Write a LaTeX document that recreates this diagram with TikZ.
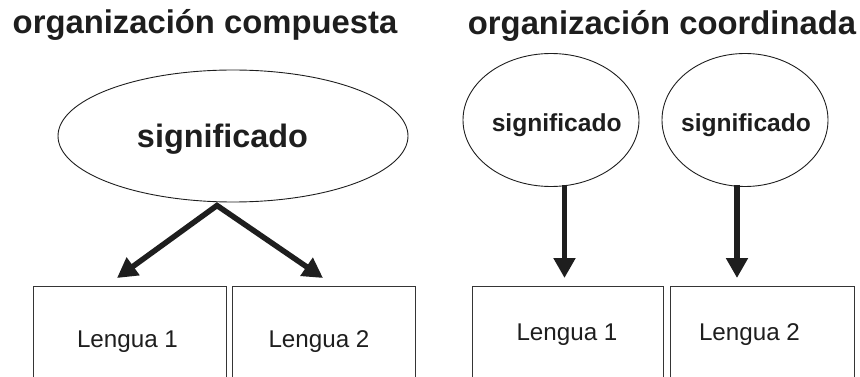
\documentclass[tikz,border=0pt]{standalone}
\usepackage{fontspec}
\setmainfont{Liberation Sans}
\usetikzlibrary{arrows.meta,shapes.geometric}
\definecolor{ink}{HTML}{1E1E1E}
\begin{document}
\begin{tikzpicture}[x=1pt,y=-1pt,
  ell/.style={draw=ink, ellipse, line width=0.9pt, inner sep=0pt},
  box/.style={draw=ink!90, rectangle, line width=1.3pt, anchor=north west, inner sep=0pt},
  title/.style={anchor=base, inner sep=0pt, text=ink, font=\fontsize{32.8}{38}\selectfont\bfseries},
  bigsig/.style={anchor=base, inner sep=0pt, text=ink, font=\fontsize{32.4}{38}\selectfont\bfseries},
  smallsig/.style={anchor=base, inner sep=0pt, text=ink, font=\fontsize{24.6}{30}\selectfont\bfseries},
  lang/.style={anchor=base, inner sep=0pt, text=ink, font=\fontsize{24.2}{30}\selectfont},
  arr/.style={draw=ink, line width=5.5pt, -{Triangle[length=20pt,width=21pt]}},
  arrtwo/.style={draw=ink, line width=5.5pt, line join=miter,
    {Triangle[length=20pt,width=21pt]}-{Triangle[length=20pt,width=21pt]}}]
\useasboundingbox (0,0) rectangle (860,377);
\clip (0,0) rectangle (860,377);
% titles
\node[title] (t1) at (205,34) {organización compuesta};
\node[title] (t2) at (662,35) {organización coordinada};
% ellipses
\node[ell, minimum width=350pt, minimum height=132pt] (e1) at (233,136) {};
\node[ell, minimum width=176pt, minimum height=133pt] (e2) at (551,120) {};
\node[ell, minimum width=166pt, minimum height=133pt] (e3) at (745,120) {};
\node[bigsig] (s1) at (222.5,148) {significado};
\node[smallsig] (s2) at (556.7,132) {significado};
\node[smallsig] (s3) at (746,132) {significado};
% boxes
\node[box, minimum width=193pt, minimum height=120pt] (b1) at (33,286) {};
\node[box, minimum width=183pt, minimum height=120pt] (b2) at (232,286) {};
\node[box, minimum width=191pt, minimum height=120pt] (b3) at (472,286) {};
\node[box, minimum width=184pt, minimum height=120pt] (b4) at (670,286) {};
\node[lang] (l1) at (127.5,347) {Lengua 1};
\node[lang] (l2) at (319,347) {Lengua 2};
\node[lang] (l3) at (567,340) {Lengua 1};
\node[lang] (l4) at (749.5,340) {Lengua 2};
% arrows
\coordinate (apex) at (217,205.5);
\coordinate (tip1) at (117,278);
\coordinate (tip2) at (323,278);
\coordinate (top3) at (564.5,185);
\coordinate (tip3) at (564.5,278);
\coordinate (top4) at (737,185);
\coordinate (tip4) at (737,278);
\draw[arrtwo] (tip1) -- (apex) -- (tip2);
\draw[arr] (top3) -- (tip3);
\draw[arr] (top4) -- (tip4);
\end{tikzpicture}
\end{document}
